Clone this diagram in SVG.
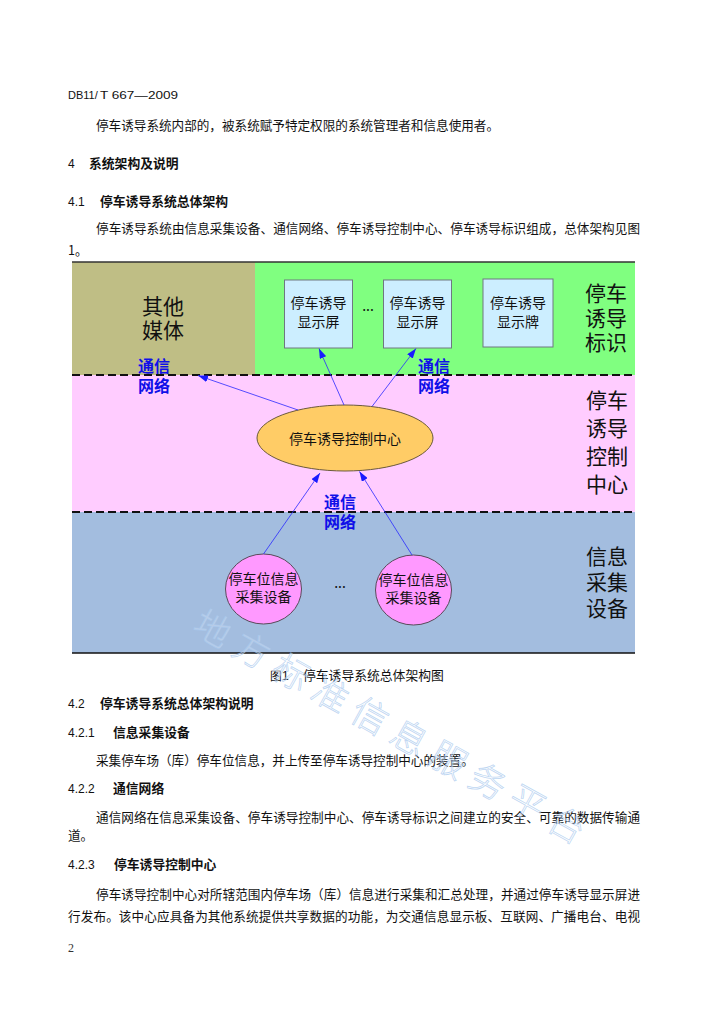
<svg xmlns="http://www.w3.org/2000/svg" width="724" height="1024" viewBox="0 0 724 1024">
<style>
.body{font-family:"Noto Sans CJK SC","Liberation Serif",serif;font-size:12.6px;fill:#111}
.head{font-family:"Noto Sans CJK SC","Liberation Sans",sans-serif;font-size:12.8px;font-weight:bold;fill:#111}
.num{font-family:"Liberation Sans",sans-serif;font-size:12px;fill:#111}
.big{font-family:"Noto Sans CJK SC",sans-serif;font-size:21px;fill:#111}
.node{font-family:"Noto Sans CJK SC",sans-serif;font-size:14px;fill:#111;text-anchor:middle}
.net{font-family:"Noto Sans CJK SC",sans-serif;font-size:16px;font-weight:bold;fill:#1010e8;text-anchor:middle}
.box{fill:#cceeff;stroke:#6e7880;stroke-width:1}
.conn{stroke:#2a2aff;stroke-width:0.8;fill:none;marker-end:url(#arr)}
.dash{stroke:#111;stroke-width:2;stroke-dasharray:8 4;fill:none}
</style>
<defs>
<marker id="arr" viewBox="0 0 10 7" refX="10" refY="3.5" markerWidth="10" markerHeight="7" markerUnits="userSpaceOnUse" orient="auto">
<path d="M0,0 L10,3.5 L0,7 z" fill="#1a1aff"/>
</marker>
</defs>
<rect width="724" height="1024" fill="#ffffff"/>

<g id="page-text">
<text class="num" x="68" y="99" style="font-size:11px">DB11/</text>
<text class="num" x="100" y="99" style="font-size:11px" textLength="78" lengthAdjust="spacingAndGlyphs">T 667—2009</text>
<text class="body" x="96" y="130">停车诱导系统内部的，被系统赋予特定权限的系统管理者和信息使用者。</text>
<text class="num" x="68" y="168">4</text>
<text class="head" x="89" y="168">系统架构及说明</text>
<text class="num" x="68" y="206">4.1</text>
<text class="head" x="100" y="206">停车诱导系统总体架构</text>
<text class="body" x="96" y="233" textLength="544" lengthAdjust="spacing">停车诱导系统由信息采集设备、通信网络、停车诱导控制中心、停车诱导标识组成，总体架构见图</text>
<text class="body" x="68" y="255">1。</text>
<text class="num" x="270" y="680">图1</text>
<text class="head" x="303" y="680" style="font-weight:normal">停车诱导系统总体架构图</text>
<text class="num" x="68" y="708">4.2</text>
<text class="head" x="100" y="708">停车诱导系统总体架构说明</text>
<text class="num" x="68" y="737">4.2.1</text>
<text class="head" x="113" y="737">信息采集设备</text>
<text class="body" x="96" y="765">采集停车场（库）停车位信息，并上传至停车诱导控制中心的装置。</text>
<text class="num" x="68" y="793">4.2.2</text>
<text class="head" x="113" y="793">通信网络</text>
<text class="body" x="96" y="822" textLength="544" lengthAdjust="spacing">通信网络在信息采集设备、停车诱导控制中心、停车诱导标识之间建立的安全、可靠的数据传输通</text>
<text class="body" x="68" y="840">道。</text>
<text class="num" x="68" y="869">4.2.3</text>
<text class="head" x="114" y="869">停车诱导控制中心</text>
<text class="body" x="96" y="899" textLength="544" lengthAdjust="spacing">停车诱导控制中心对所辖范围内停车场（库）信息进行采集和汇总处理，并通过停车诱导显示屏进</text>
<text class="body" x="68" y="921" textLength="572" lengthAdjust="spacing">行发布。该中心应具备为其他系统提供共享数据的功能，为交通信息显示板、互联网、广播电台、电视</text>
<text x="68" y="952" style="font-family:'Liberation Serif',serif;font-size:12px;fill:#333">2</text>
</g>

<g id="bands">
<rect x="72" y="262" width="183" height="113" fill="#bfbe85"/>
<rect x="255" y="262" width="380" height="113" fill="#80ff80"/>
<rect x="72" y="375" width="563" height="137" fill="#ffccff"/>
<rect x="72" y="512" width="563" height="141" fill="#a3bddf"/>
<line x1="72" y1="262" x2="635" y2="262" stroke="#333" stroke-width="1.5"/>
<line x1="72" y1="653" x2="635" y2="653" stroke="#111" stroke-width="1.5"/>
<line class="dash" x1="72" y1="375" x2="635" y2="375"/>
<line class="dash" x1="72" y1="512" x2="635" y2="512"/>
</g>

<g id="band-labels">
<text class="big" text-anchor="middle"><tspan x="163" y="314">其他</tspan><tspan x="163" y="338">媒体</tspan></text>
<text class="big"><tspan x="585" y="301">停车</tspan><tspan x="585" y="326">诱导</tspan><tspan x="585" y="350">标识</tspan></text>
<text class="big"><tspan x="586" y="408">停车</tspan><tspan x="586" y="436">诱导</tspan><tspan x="586" y="464">控制</tspan><tspan x="586" y="492">中心</tspan></text>
<text class="big"><tspan x="586" y="564">信息</tspan><tspan x="586" y="590">采集</tspan><tspan x="586" y="616">设备</tspan></text>
</g>

<g id="node-screen1">
<rect class="box" x="284.5" y="280" width="68" height="68"/>
<text class="node"><tspan x="318.5" y="308">停车诱导</tspan><tspan x="318.5" y="327">显示屏</tspan></text>
</g>
<g id="node-ellipsis-top">
<text class="node" x="368" y="311">...</text>
</g>
<g id="node-screen2">
<rect class="box" x="383.5" y="280" width="68" height="68"/>
<text class="node"><tspan x="417.5" y="308">停车诱导</tspan><tspan x="417.5" y="327">显示屏</tspan></text>
</g>
<g id="node-sign">
<rect class="box" x="483" y="279" width="70" height="68"/>
<text class="node"><tspan x="518" y="308">停车诱导</tspan><tspan x="518" y="327">显示牌</tspan></text>
</g>
<g id="node-center">
<ellipse cx="345" cy="438" rx="88" ry="33" fill="#ffcc66" stroke="#6b5a3a" stroke-width="1"/>
<text class="node" x="345" y="443.5">停车诱导控制中心</text>
</g>
<g id="node-collector1">
<ellipse cx="263.5" cy="589" rx="38" ry="35" fill="#ff99ff" stroke="#5a4a5a" stroke-width="1"/>
<text class="node"><tspan x="263.5" y="584">停车位信息</tspan><tspan x="263.5" y="602">采集设备</tspan></text>
</g>
<g id="node-ellipsis-bottom">
<text class="node" x="340" y="588">...</text>
</g>
<g id="node-collector2">
<ellipse cx="413.5" cy="590" rx="38" ry="35" fill="#ff99ff" stroke="#5a4a5a" stroke-width="1"/>
<text class="node"><tspan x="413.5" y="585">停车位信息</tspan><tspan x="413.5" y="603">采集设备</tspan></text>
</g>

<g id="connectors">
<line class="conn" x1="298" y1="410" x2="198" y2="375.5"/>
<line class="conn" x1="344" y1="405" x2="319" y2="348.5"/>
<line class="conn" x1="372" y1="406.5" x2="416" y2="348.5"/>
<line class="conn" x1="263.5" y1="554" x2="320" y2="473"/>
<line class="conn" x1="412" y1="555" x2="359.5" y2="471.5"/>
<text class="net"><tspan x="154" y="372">通信</tspan><tspan x="154" y="392">网络</tspan></text>
<text class="net"><tspan x="434" y="372">通信</tspan><tspan x="434" y="392">网络</tspan></text>
<text class="net"><tspan x="340" y="508">通信</tspan><tspan x="340" y="528">网络</tspan></text>
</g>

<g id="watermark">
<text transform="translate(213,628) rotate(29)" x="-18" y="14" style="font-family:'Noto Sans CJK SC',sans-serif;font-size:36px;letter-spacing:9px;font-weight:300" fill="#ffffff" fill-opacity="0.25" stroke="#a9c9ee" stroke-width="0.8" stroke-opacity="0.75">地方标准信息服务平台</text>
</g>
</svg>
